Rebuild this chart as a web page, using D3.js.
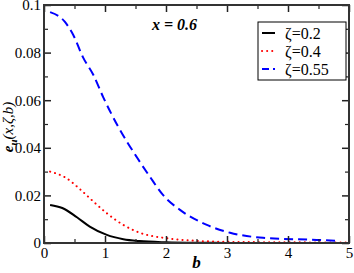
<!DOCTYPE html>
<html>
<head>
<meta charset="utf-8">
<script src="https://cdn.jsdelivr.net/npm/d3@7"></script>
<style>
  body { margin: 0; background: #fff; }
</style>
</head>
<body>
<svg id="chart" width="354" height="273"></svg>
<script>
// b values and curves
var bBlack = [0.1, 0.3, 0.54, 0.75, 1.03, 1.3, 1.57, 2.0, 2.5, 3, 4, 5];
var vBlack = [0.016, 0.0147, 0.0108, 0.0069, 0.0034, 0.0016, 0.0008, 0.0003, 0.0001, 0.00005, 0.00002, 0.00001];

var bRed = [0.1, 0.37, 0.59, 0.81, 1.03, 1.3, 1.57, 2.01, 2.44, 3, 4, 5];
var vRed = [0.030, 0.0272, 0.0226, 0.0174, 0.0125, 0.0076, 0.0043, 0.002, 0.001, 0.0005, 0.0003, 0.0002];

var bBlue = [0.1, 0.34, 0.48, 0.64, 0.81, 0.97, 1.22, 1.52, 1.74, 1.95, 2.23, 2.67, 3.05, 3.59, 4.47, 4.85];
var vBlue = [0.097, 0.093, 0.0874, 0.078, 0.0706, 0.0613, 0.0487, 0.0361, 0.0277, 0.0202, 0.0139, 0.0076, 0.0043, 0.0022, 0.0013, 0.0008];

var seriesNames = ['ζ=0.2', 'ζ=0.4', 'ζ=0.55'];
var xTicks = [0, 1, 2, 3, 4, 5];
var yTicks = [0, 0.02, 0.04, 0.06, 0.08, 0.1];
var yTickLabels = ['0', '0.02', '0.04', '0.06', '0.08', '0.1'];

var serif = '"Liberation Serif", "Times New Roman", serif';

var svg = d3.select('#chart'),
    margin = {top: 5, right: 5, bottom: 30, left: 44},
    width = +svg.attr('width') - margin.left - margin.right,
    height = +svg.attr('height') - margin.top - margin.bottom,
    g = svg.append('g')
          .attr('transform', `translate(${margin.left}, ${margin.top})`)

var x = d3.scaleLinear().domain([0, 5]).range([0, width]),
    y = d3.scaleLinear().domain([0, 0.1]).range([height, 0]);

var series = [
  {b: bBlack, v: vBlack, color: '#000', dash: null, cap: 'butt'},
  {b: bRed, v: vRed, color: '#f00', dash: '0.1 5', cap: 'round'},
  {b: bBlue, v: vBlue, color: '#00f', dash: '9 5', cap: 'butt'}
];

var line = d3.line()
  .x(d => x(d[0]))
  .y(d => y(d[1]))
  .curve(d3.curveMonotoneX);

svg.append('clipPath').attr('id', 'clip')
  .append('rect').attr('width', width).attr('height', height);

series.forEach(s => {
  g.append('path')
    .datum(s.b.map((b, i) => [b, s.v[i]]))
    .attr('clip-path', 'url(#clip)')
    .attr('fill', 'none')
    .attr('stroke', s.color)
    .attr('stroke-width', 2)
    .attr('stroke-linecap', s.cap)
    .attr('stroke-dasharray', s.dash)
    .attr('d', line);
});

// axes with ticks pointing inward
var minorX = [0.5, 1.5, 2.5, 3.5, 4.5];
var minorY = [0.01, 0.03, 0.05, 0.07, 0.09];

function tickAxes(axisFn, scale, major, minor, transform, labels) {
  var a = g.append('g').attr('transform', transform)
    .call(axisFn(scale).tickValues(major).tickSizeInner(-7).tickSizeOuter(0)
      .tickFormat(labels ? (d, i) => labels[i] : ''));
  a.select('.domain').remove();
  a.selectAll('line').attr('stroke', '#222').attr('stroke-width', 1.5);
  a.selectAll('text').style('font-family', serif);
  var b = g.append('g').attr('transform', transform)
    .call(axisFn(scale).tickValues(minor).tickSizeInner(-4).tickSizeOuter(0).tickFormat(''));
  b.select('.domain').remove();
  b.selectAll('line').attr('stroke', '#222').attr('stroke-width', 1.2);
  return a;
}

var xa = tickAxes(d3.axisBottom, x, xTicks, minorX, `translate(0, ${height})`, xTicks.map(String));
xa.attr('font-size', 15);
xa.selectAll('text').attr('fill', '#000').attr('y', 4).attr('dy', '0.71em');
tickAxes(d3.axisTop, x, xTicks, minorX, 'translate(0, 0)', null);

var ya = tickAxes(d3.axisLeft, y, yTicks, minorY, 'translate(0, 0)', yTickLabels);
ya.attr('font-size', 15);
ya.selectAll('text').attr('fill', '#000').attr('x', -3);
tickAxes(d3.axisRight, y, yTicks, minorY, `translate(${width}, 0)`, null);

g.append('rect')
  .attr('width', width).attr('height', height)
  .attr('fill', 'none').attr('stroke', '#333').attr('stroke-width', 2);

// axis titles
svg.append('text')
  .attr('x', margin.left + width / 2).attr('y', 268)
  .attr('text-anchor', 'middle').style('font-family', serif)
  .attr('font-size', 17).attr('font-weight', 'bold').attr('font-style', 'italic')
  .text('b');

var yl = svg.append('text')
  .attr('transform', `translate(13, 127) rotate(-90)`)
  .attr('text-anchor', 'middle').style('font-family', serif)
  .attr('font-size', 15).attr('font-style', 'italic');
yl.append('tspan').attr('font-weight', 'bold').text('e');
yl.append('tspan').attr('font-weight', 'bold').attr('font-size', 11).attr('dy', 4).text('u');
yl.append('tspan').attr('dy', -4).text('(x,ζ,b)');

svg.append('text')
  .attr('x', 197).attr('y', 30)
  .attr('text-anchor', 'end').style('font-family', serif)
  .attr('font-size', 16).attr('font-weight', 'bold').attr('font-style', 'italic')
  .text('x = 0.6');

// legend
var leg = svg.append('g').attr('transform', 'translate(258, 22)');
leg.append('rect').attr('width', 88).attr('height', 58)
  .attr('fill', '#fff').attr('stroke', '#000').attr('stroke-width', 1);
series.forEach((s, i) => {
  var yy = 11 + i * 18;
  leg.append('line')
    .attr('x1', 4).attr('x2', 17).attr('y1', yy).attr('y2', yy)
    .attr('stroke', s.color).attr('stroke-width', 2)
    .attr('stroke-linecap', s.cap)
    .attr('stroke-dasharray', i === 1 ? '0.1 5' : (i === 2 ? '7 4' : null));
  leg.append('text')
    .attr('x', 27).attr('y', yy).attr('dy', '0.35em')
    .style('font-family', serif)
    .attr('font-size', 16)
    .text(seriesNames[i]);
});
</script>
</body>
</html>
